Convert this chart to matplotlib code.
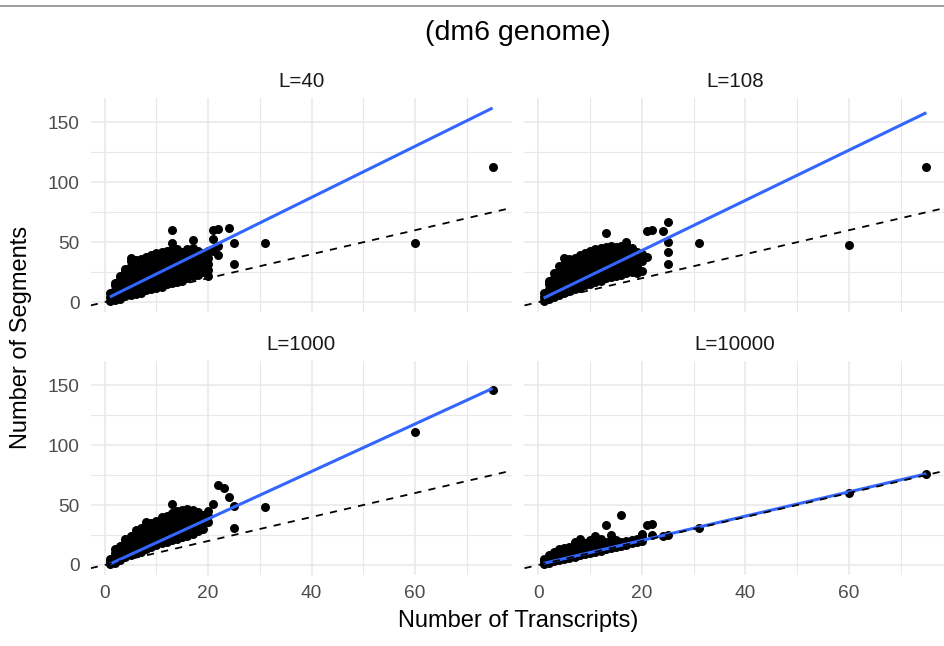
import numpy as np
import matplotlib
matplotlib.use("Agg")
import matplotlib.pyplot as plt
from matplotlib.lines import Line2D

plt.rcParams["font.family"] = ["Liberation Sans", "DejaVu Sans"]

# panel labels (facet strips)
panel_labels = ["L=40", "L=108", "L=1000", "L=10000"]

# (transcripts, segments), one list per facet
l40_points = [
    (1, 1), (1, 4), (1, 8),
    (2, 2), (2, 6), (2, 10), (2, 14), (2, 16),
    (3, 3), (3, 7), (3, 11), (3, 15), (3, 19), (3, 22),
    (4, 5), (4, 9), (4, 13), (4, 17), (4, 21), (4, 25), (4, 28),
    (5, 6), (5, 10), (5, 14), (5, 18), (5, 22), (5, 26), (5, 30), (5, 34), (5, 37),
    (6, 7), (6, 11), (6, 15), (6, 19), (6, 23), (6, 27), (6, 31), (6, 35),
    (7, 8), (7, 12), (7, 16), (7, 20), (7, 24), (7, 28), (7, 32), (7, 36),
    (8, 10), (8, 14), (8, 18), (8, 22), (8, 26), (8, 30), (8, 34), (8, 38),
    (9, 11), (9, 15), (9, 19), (9, 23), (9, 27), (9, 31), (9, 35), (9, 39),
    (10, 12), (10, 16), (10, 20), (10, 24), (10, 28), (10, 32), (10, 36), (10, 41),
    (11, 13), (11, 17), (11, 21), (11, 25), (11, 29), (11, 33), (11, 37), (11, 42),
    (12, 15), (12, 19), (12, 23), (12, 27), (12, 31), (12, 35), (12, 39), (12, 43),
    (13, 16), (13, 20), (13, 24), (13, 28), (13, 32), (13, 36), (13, 40), (13, 44), (13, 49), (13, 60),
    (14, 17), (14, 21), (14, 25), (14, 29), (14, 33), (14, 37), (14, 41), (14, 44),
    (15, 18), (15, 22), (15, 26), (15, 30), (15, 34), (15, 38), (15, 42),
    (16, 20), (16, 24), (16, 28), (16, 32), (16, 36), (16, 40), (16, 44),
    (17, 22), (17, 26), (17, 30), (17, 34), (17, 38), (17, 42), (17, 45), (17, 52),
    (18, 23), (18, 27), (18, 31), (18, 35), (18, 39), (18, 43),
    (19, 25), (19, 29), (19, 33), (19, 37), (19, 41),
    (20, 22), (20, 27), (20, 32), (20, 37), (20, 43),
    (21, 60), (21, 53), (21, 43), (22, 61), (22, 47), (22, 39),
    (24, 62), (25, 49), (25, 32),
    (31, 49), (60, 49), (75, 113),
]

l108_points = [
    (1, 1), (1, 4), (1, 8),
    (2, 3), (2, 7), (2, 11), (2, 15), (2, 18),
    (3, 4), (3, 8), (3, 12), (3, 16), (3, 20), (3, 24),
    (4, 6), (4, 10), (4, 14), (4, 18), (4, 22), (4, 26), (4, 30),
    (5, 8), (5, 12), (5, 16), (5, 20), (5, 24), (5, 28), (5, 32), (5, 37),
    (6, 9), (6, 13), (6, 17), (6, 21), (6, 25), (6, 29), (6, 33), (6, 36),
    (7, 11), (7, 15), (7, 19), (7, 23), (7, 27), (7, 31), (7, 35), (7, 37),
    (8, 12), (8, 16), (8, 20), (8, 24), (8, 28), (8, 32), (8, 36), (8, 39),
    (9, 14), (9, 18), (9, 22), (9, 26), (9, 30), (9, 34), (9, 38), (9, 41),
    (10, 15), (10, 19), (10, 23), (10, 27), (10, 31), (10, 35), (10, 39), (10, 43),
    (11, 17), (11, 21), (11, 25), (11, 29), (11, 33), (11, 37), (11, 41), (11, 44),
    (12, 18), (12, 22), (12, 26), (12, 30), (12, 34), (12, 38), (12, 42), (12, 45),
    (13, 20), (13, 24), (13, 28), (13, 32), (13, 36), (13, 40), (13, 44), (13, 46), (13, 58),
    (14, 21), (14, 25), (14, 29), (14, 33), (14, 37), (14, 41), (14, 45), (14, 47),
    (15, 22), (15, 26), (15, 30), (15, 34), (15, 38), (15, 42), (15, 46),
    (16, 23), (16, 27), (16, 31), (16, 35), (16, 39), (16, 43), (16, 47),
    (17, 24), (17, 28), (17, 32), (17, 36), (17, 40), (17, 44), (17, 48), (17, 50),
    (18, 25), (18, 29), (18, 33), (18, 37), (18, 41), (18, 45),
    (19, 24), (19, 30), (19, 34), (19, 38), (19, 42),
    (20, 26), (20, 34), (20, 40),
    (21, 59), (21, 38), (22, 60), (24, 59),
    (25, 67), (25, 50), (25, 42), (25, 32),
    (31, 49), (60, 48), (75, 113),
]

l1000_points = [
    (1, 1), (1, 3), (1, 5),
    (2, 2), (2, 6), (2, 10), (2, 13),
    (3, 4), (3, 8), (3, 12), (3, 16),
    (4, 7), (4, 11), (4, 15), (4, 19), (4, 22),
    (5, 8), (5, 12), (5, 16), (5, 20), (5, 24),
    (6, 10), (6, 14), (6, 18), (6, 22), (6, 26), (6, 29),
    (7, 11), (7, 15), (7, 19), (7, 23), (7, 27), (7, 31),
    (8, 13), (8, 17), (8, 21), (8, 25), (8, 29), (8, 33), (8, 36),
    (9, 15), (9, 19), (9, 23), (9, 27), (9, 31), (9, 35),
    (10, 17), (10, 21), (10, 25), (10, 29), (10, 33), (10, 37),
    (11, 18), (11, 22), (11, 26), (11, 30), (11, 34), (11, 38), (11, 40),
    (12, 19), (12, 23), (12, 27), (12, 31), (12, 35), (12, 39), (12, 41),
    (13, 21), (13, 25), (13, 29), (13, 33), (13, 37), (13, 41), (13, 43), (13, 51),
    (14, 22), (14, 26), (14, 30), (14, 34), (14, 38), (14, 42), (14, 45),
    (15, 23), (15, 27), (15, 31), (15, 35), (15, 39), (15, 43), (15, 46),
    (16, 24), (16, 28), (16, 32), (16, 36), (16, 40), (16, 44), (16, 47),
    (17, 26), (17, 30), (17, 34), (17, 38), (17, 42), (17, 46),
    (18, 28), (18, 32), (18, 36), (18, 40), (18, 44),
    (19, 30), (19, 34), (19, 38), (19, 42),
    (20, 36), (20, 41), (20, 45),
    (21, 51), (22, 67), (23, 64), (24, 57), (25, 49), (25, 31),
    (31, 48), (60, 111), (75, 146),
]

l10000_points = [
    (1, 1), (1, 3), (1, 5),
    (2, 2), (2, 5), (2, 8),
    (3, 3), (3, 6), (3, 9), (3, 11),
    (4, 4), (4, 7), (4, 10), (4, 13),
    (5, 5), (5, 8), (5, 11), (5, 14),
    (6, 6), (6, 9), (6, 12), (6, 15),
    (7, 7), (7, 10), (7, 13), (7, 16), (7, 19),
    (8, 8), (8, 11), (8, 14), (8, 18), (8, 22),
    (9, 9), (9, 12), (9, 15), (9, 18),
    (10, 10), (10, 13), (10, 16), (10, 19), (10, 21),
    (11, 11), (11, 14), (11, 17), (11, 21), (11, 24),
    (12, 12), (12, 15), (12, 18), (12, 22),
    (13, 13), (13, 16), (13, 19), (13, 33),
    (14, 14), (14, 17), (14, 20), (14, 25),
    (15, 15), (15, 18), (15, 21),
    (16, 16), (16, 19), (16, 42),
    (17, 17), (17, 20),
    (18, 18), (18, 21),
    (19, 19), (19, 22),
    (20, 20), (20, 23), (20, 26),
    (21, 33), (22, 34), (22, 25), (24, 24), (25, 25),
    (31, 31), (60, 60), (75, 76),
]

# linear fit (blue) per facet
fit_intercepts = [2.2, 1.3, -1.2, 0.3]
fit_slopes = [2.13, 2.09, 1.98, 1.01]
fit_x_range = [1, 75]

x_ticks = [0, 20, 40, 60]
y_ticks = [0, 50, 100, 150]

W, H = 945, 646
GRID = "#E8E8E8"


def style_panel(ax, show_x, show_y):
    """Minimal ggplot-like look for one facet."""
    ax.set_xlim(-2.7, 78.7)
    ax.set_ylim(-8.2, 170.3)
    ax.set_xticks(x_ticks)
    ax.set_yticks(y_ticks)
    ax.set_xticks([10, 30, 50, 70], minor=True)
    ax.set_yticks([25, 75, 125], minor=True)
    ax.grid(True, which="major", color=GRID, lw=1.1)
    ax.grid(True, which="minor", color=GRID, lw=0.8)
    ax.set_axisbelow(True)
    for s in ax.spines.values():
        s.set_visible(False)
    ax.tick_params(which="both", length=0, labelsize=13.8, labelcolor="#4D4D4D")
    ax.tick_params(axis="x", pad=7.0)
    ax.tick_params(axis="y", pad=7.9)
    if not show_x:
        ax.set_xticklabels([])
    if not show_y:
        ax.set_yticklabels([])


fig = plt.figure(figsize=(W / 100, H / 100), dpi=100)

lefts = [90.7, 524.5]
bottoms = [312, 574.8]  # pixel bottom of each row (from top)
pw, ph = 421, 214

all_points = [l40_points, l108_points, l1000_points, l10000_points]

for i, pts in enumerate(all_points):
    row, col = divmod(i, 2)
    ax = fig.add_axes([lefts[col] / W, 1 - bottoms[row] / H, pw / W, ph / H])
    style_panel(ax, show_x=(row == 1), show_y=(col == 0))

    xs = [p[0] for p in pts]
    ys = [p[1] for p in pts]
    ax.scatter(xs, ys, s=42, color="black", linewidths=0, zorder=2)

    fx = np.array(fit_x_range, dtype=float)
    ax.plot(fx, fit_intercepts[i] + fit_slopes[i] * fx, color="#3366FF",
            lw=2.2, solid_capstyle="butt", zorder=3)

    # y = x reference line
    ax.axline((0, 0), slope=1, color="black", lw=1.3, ls=(0, (4, 4)), zorder=4)

    ax.set_title(panel_labels[i], fontsize=14.8, color="#1A1A1A", pad=7.9)

fig.text(518.3 / W, 1 - 40 / H, "(dm6 genome)", ha="center", va="baseline", fontsize=20.5)
fig.text(518 / W, 1 - 626.7 / H, "Number of Transcripts)", ha="center", va="baseline", fontsize=17)
fig.text(20.8 / W, 1 - 337 / H, "Number of Segments", ha="center", va="center",
         rotation=90, fontsize=17)

# thin grey frame line at the top
fig.add_artist(Line2D([0, 1], [1 - 6 / H, 1 - 6 / H], color="#8C8C8C", lw=1.2,
                      transform=fig.transFigure))

fig.savefig("out.png", dpi=100)
